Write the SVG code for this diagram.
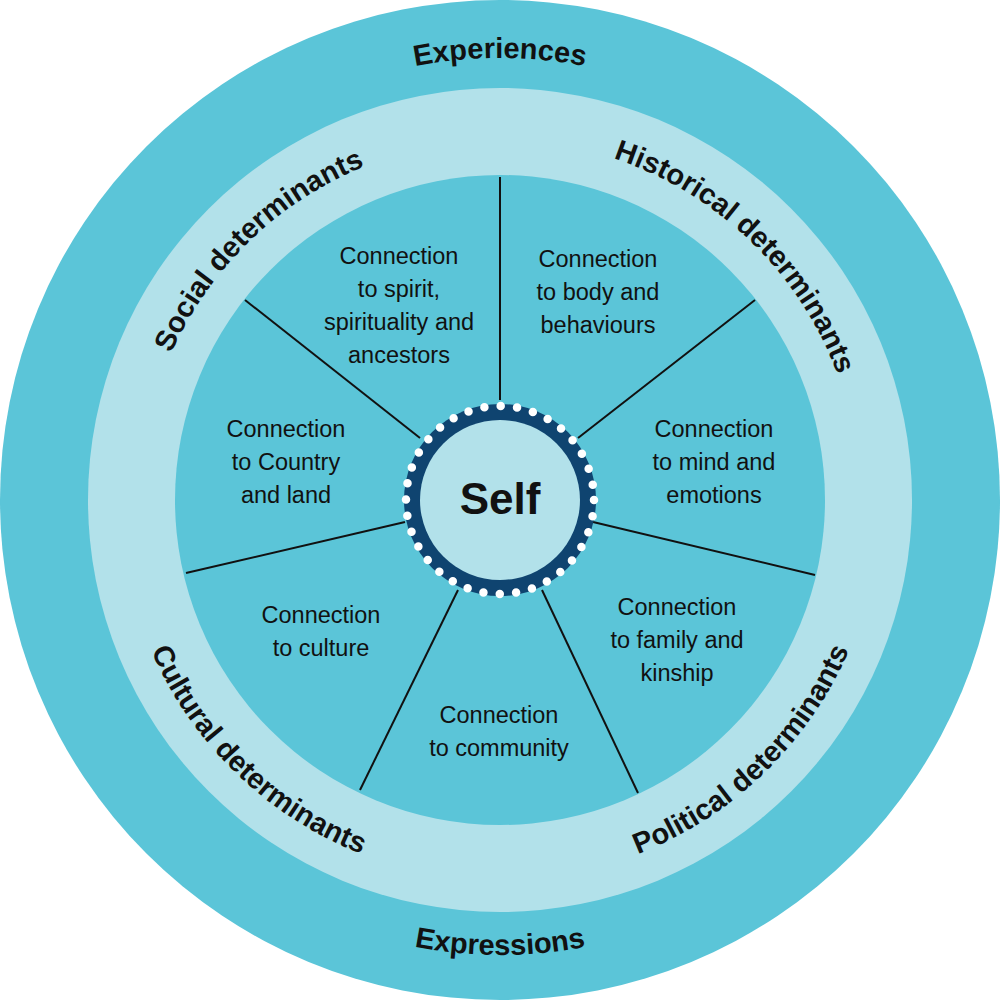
<svg xmlns="http://www.w3.org/2000/svg" width="1000" height="1000" viewBox="0 0 1000 1000">
<style>
.c{font-family:"Liberation Sans",Arial,sans-serif;font-size:23.5px;fill:#111;text-anchor:middle}
.b{font-family:"Liberation Sans",Arial,sans-serif;font-size:29px;font-weight:bold;fill:#111}
.sp{stroke:#111;stroke-width:2}
</style>
<defs>
<path id="pExp" d="M117.2,279 A442,442 0 0 1 882.8,279"/>
<path id="pSoc" d="M150.7,587.1 A360,360 0 0 1 599.2,153.9"/>
<path id="pHis" d="M400.8,153.9 A360,360 0 0 1 849.3,587.1"/>
<path id="pCul" d="M131.3,408.1 A380,380 0 0 0 604.7,865.3"/>
<path id="pPol" d="M395.3,865.3 A380,380 0 0 0 868.7,408.1"/>
<path id="pExr" d="M106,727.5 A455,455 0 0 0 894,727.5"/>
</defs>
<g id="rings">
<circle cx="500" cy="500" r="500" fill="#5BC5D8"/>
<circle cx="500" cy="500" r="412" fill="#B2E1EA"/>
<circle cx="500" cy="500" r="325" fill="#5BC5D8"/>
</g>
<g id="connectors">
<line class="sp" x1="500" y1="177" x2="500" y2="400"/>
<line class="sp" x1="755" y1="300" x2="578" y2="438"/>
<line class="sp" x1="815" y1="575" x2="593" y2="522"/>
<line class="sp" x1="638" y1="793" x2="542" y2="590"/>
<line class="sp" x1="360" y1="790" x2="458" y2="590"/>
<line class="sp" x1="186" y1="573" x2="405" y2="522"/>
<line class="sp" x1="245" y1="300" x2="420" y2="438"/>
</g>
<g id="self">
<circle cx="500" cy="500" r="96" fill="#0F4470"/>
<circle cx="500" cy="500" r="80" fill="#B2E1EA"/>
<circle cx="500" cy="500" r="94" fill="none" stroke="#fff" stroke-width="8.5" stroke-linecap="round" stroke-dasharray="0 16.406"/>
<text x="500" y="514" style="font-family:'Liberation Sans',Arial,sans-serif;font-size:44px;font-weight:bold;text-anchor:middle;fill:#111">Self</text>
</g>
<g id="outer-labels">
<text class="b"><textPath href="#pExp" startOffset="50%" text-anchor="middle">Experiences</textPath></text>
<text class="b"><textPath href="#pExr" startOffset="50%" text-anchor="middle">Expressions</textPath></text>
<text class="b"><textPath href="#pSoc" startOffset="50%" text-anchor="middle">Social determinants</textPath></text>
<text class="b"><textPath href="#pHis" startOffset="50%" text-anchor="middle">Historical determinants</textPath></text>
<text class="b"><textPath href="#pCul" startOffset="50%" text-anchor="middle">Cultural determinants</textPath></text>
<text class="b"><textPath href="#pPol" startOffset="50%" text-anchor="middle">Political determinants</textPath></text>
</g>
<g id="spirit"><text class="c" x="399" y="264">Connection<tspan x="399" dy="33">to spirit,</tspan><tspan x="399" dy="33">spirituality and</tspan><tspan x="399" dy="33">ancestors</tspan></text></g>
<g id="body"><text class="c" x="598" y="267">Connection<tspan x="598" dy="33">to body and</tspan><tspan x="598" dy="33">behaviours</tspan></text></g>
<g id="mind"><text class="c" x="714" y="437">Connection<tspan x="714" dy="33">to mind and</tspan><tspan x="714" dy="33">emotions</tspan></text></g>
<g id="family"><text class="c" x="677" y="615">Connection<tspan x="677" dy="33">to family and</tspan><tspan x="677" dy="33">kinship</tspan></text></g>
<g id="community"><text class="c" x="499" y="723">Connection<tspan x="499" dy="33">to community</tspan></text></g>
<g id="culture"><text class="c" x="321" y="623">Connection<tspan x="321" dy="33">to culture</tspan></text></g>
<g id="country"><text class="c" x="286" y="437">Connection<tspan x="286" dy="33">to Country</tspan><tspan x="286" dy="33">and land</tspan></text></g>
</svg>
